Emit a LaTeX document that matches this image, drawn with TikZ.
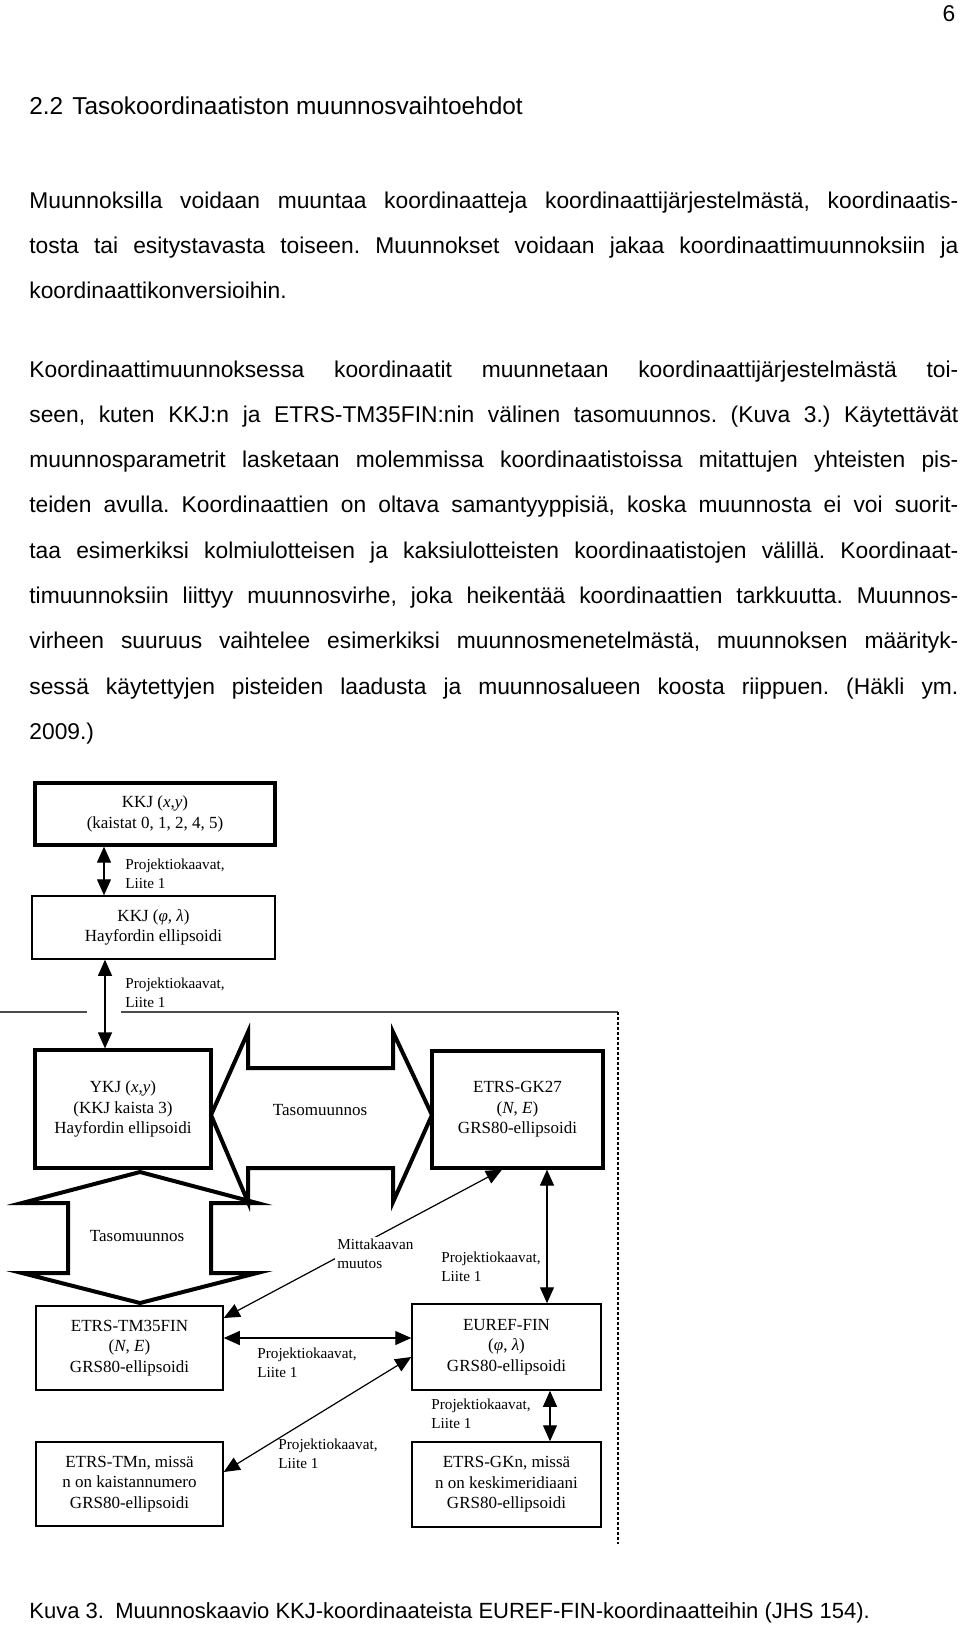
\documentclass[tikz,border=0pt]{standalone}
\usepackage{fontspec}
\setmainfont{Liberation Sans}
\newfontfamily\diagfont{Liberation Serif}
\usetikzlibrary{arrows.meta}
\begin{document}
\frenchspacing
\begin{tikzpicture}[x=0.5pt,y=-0.5pt,
  body/.style={anchor=base west, inner sep=0pt, font=\fontsize{11.4}{14}\selectfont},
  head/.style={anchor=base west, inner sep=0pt, font=\fontsize{12.2}{14}\selectfont},
  capt/.style={anchor=base west, inner sep=0pt, font=\fontsize{11}{14}\selectfont},
  box/.style={draw, line width=0.75pt, inner sep=0pt, align=center, font=\diagfont\fontsize{8.5}{10.2}\selectfont},
  thickbox/.style={box, line width=1.6pt},
  lbl/.style={inner sep=0pt, anchor=west, align=left, font=\diagfont\fontsize{7.6}{9.5}\selectfont},
  dbl/.style={line width=0.6pt, {Triangle[length=8pt,width=7pt]}-{Triangle[length=8pt,width=7pt]}},
  bigarrow/.style={line width=2pt, line join=miter},
  sep/.style={line width=0.7pt, black!70}
]
\fill[white] (0,0) rectangle (960,1630);
\useasboundingbox (0,0) rectangle (960,1630);

% page number and heading
\node[body, anchor=base] (pg) at (949,21) {6};
\node[head] (h1) at (29,114) {2.2};
\node[head] (h2) at (72,114) {Tasokoordinaatiston muunnosvaihtoehdot};

% body text
\def\lw{464.5pt}
\node[body] (t1) at (29,208) {\makebox[\lw][s]{Muunnoksilla voidaan muuntaa koordinaatteja koordinaattijärjestelmästä, koordinaatis-}};
\node[body] (t2) at (29,253.3) {\makebox[\lw][s]{tosta tai esitystavasta toiseen. Muunnokset voidaan jakaa koordinaattimuunnoksiin ja}};
\node[body] (t3) at (29,298.6) {koordinaattikonversioihin.};
\node[body] (t4) at (29,377) {\makebox[\lw][s]{Koordinaattimuunnoksessa koordinaatit muunnetaan koordinaattijärjestelmästä toi-}};
\node[body] (t5) at (29,422.3) {\makebox[\lw][s]{seen, kuten KKJ:n ja ETRS-TM35FIN:nin välinen tasomuunnos. (Kuva 3.) Käytettävät}};
\node[body] (t6) at (29,467.6) {\makebox[\lw][s]{muunnosparametrit lasketaan molemmissa koordinaatistoissa mitattujen yhteisten pis-}};
\node[body] (t7) at (29,512.9) {\makebox[\lw][s]{teiden avulla. Koordinaattien on oltava samantyyppisiä, koska muunnosta ei voi suorit-}};
\node[body] (t8) at (29,558.2) {\makebox[\lw][s]{taa esimerkiksi kolmiulotteisen ja kaksiulotteisten koordinaatistojen välillä. Koordinaat-}};
\node[body] (t9) at (29,603.5) {\makebox[\lw][s]{timuunnoksiin liittyy muunnosvirhe, joka heikentää koordinaattien tarkkuutta. Muunnos-}};
\node[body] (t10) at (29,648.8) {\makebox[\lw][s]{virheen suuruus vaihtelee esimerkiksi muunnosmenetelmästä, muunnoksen määrityk-}};
\node[body] (t11) at (29,694.1) {\makebox[\lw][s]{sessä käytettyjen pisteiden laadusta ja muunnosalueen koosta riippuen. (Häkli ym.}};
\node[body] (t12) at (29,739.4) {2009.)};

% boxes
\node[thickbox, minimum width=120pt, minimum height=31pt] (kkj) at (155,814) {KKJ (\textit{x},\textit{y})\\(kaistat 0, 1, 2, 4, 5)};
\node[box, minimum width=121.5pt, minimum height=31.5pt] (kkjp) at (153.5,927.5) {KKJ (\textit{φ}, \textit{λ})\\Hayfordin ellipsoidi};
\node[thickbox, minimum width=88pt, minimum height=59pt] (ykj) at (123,1109) {YKJ (\textit{x},\textit{y})\\(KKJ kaista 3)\\Hayfordin ellipsoidi};
\node[thickbox, minimum width=85.5pt, minimum height=58.5pt] (gk) at (517.5,1109.5) {ETRS-GK27\\(\textit{N}, \textit{E})\\GRS80-ellipsoidi};
\node[box, minimum width=93.5pt, minimum height=42pt] (tm) at (129.5,1348) {ETRS-TM35FIN\\(\textit{N}, \textit{E})\\GRS80-ellipsoidi};
\node[box, minimum width=94.5pt, minimum height=43pt] (euref) at (506.5,1347) {EUREF-FIN\\(\textit{φ}, \textit{λ})\\GRS80-ellipsoidi};
\node[box, minimum width=93.5pt, minimum height=42pt] (tmn) at (129.5,1484) {ETRS-TMn, missä\\n on kaistannumero\\GRS80-ellipsoidi};
\node[box, minimum width=94.5pt, minimum height=42.5pt] (gkn) at (506.5,1484.5) {ETRS-GKn, missä\\n on keskimeridiaani\\GRS80-ellipsoidi};

% helper coordinates
\coordinate (x104) at (104,0);
\coordinate (x105) at (105,0);
\coordinate (x547) at (547,0);
\coordinate (x550) at (550,0);
\coordinate (x502) at (502,0);
\coordinate (y1338) at (0,1338);
\coordinate (y1318) at (0,1318);
\coordinate (y1472) at (0,1472);
\coordinate (y1357) at (0,1357);

% separator lines
\coordinate (sl1) at (0,1012);
\coordinate (sl2) at (87,1012);
\coordinate (sr1) at (121,1012);
\coordinate (sr2) at (618,1012);
\coordinate (sd) at (618,1544);
\draw[sep] (sl1) -- (sl2);
\draw[sep] (sr1) -- (sr2);
\draw[line width=1pt, dash pattern=on 1.3pt off 1.2pt] (sr2) -- (sd);

% big arrows
\draw[bigarrow] (211,1115) -- (248,1032) -- (248,1068) -- (393,1068) -- (393,1032) -- (432,1115)
  -- (393,1202) -- (393,1168) -- (248,1168) -- (248,1202) -- cycle;
\node[font=\diagfont\fontsize{8.5}{10}\selectfont] (tasoh) at (320,1110) {Tasomuunnos};
\draw[bigarrow] (140,1172) -- (257,1203) -- (211,1203) -- (211,1273) -- (257,1273) -- (140,1303)
  -- (22,1273) -- (68,1273) -- (68,1203) -- (22,1203) -- cycle;
\node[font=\diagfont\fontsize{8.5}{10}\selectfont] (tasov) at (137,1236) {Tasomuunnos};

% thin connectors
\draw[dbl] (kkj.south -| x104) -- (kkjp.north -| x104);
\node[lbl] (l1) at (125,873.5) {Projektiokaavat,\\Liite 1};
\draw[dbl] (kkjp.south -| x105) -- (ykj.north -| x105);
\node[lbl] (l2) at (125,992.5) {Projektiokaavat,\\Liite 1};
\draw[dbl] (gk.south -| x547) -- (euref.north -| x547);
\node[lbl] (l3) at (441,1266.5) {Projektiokaavat,\\Liite 1};
\draw[dbl] (euref.south -| x550) -- (gkn.north -| x550);
\node[lbl] (l4) at (431,1414) {Projektiokaavat,\\Liite 1};
\draw[dbl] (tm.east |- y1338) -- (euref.west |- y1338);
\node[lbl] (l5) at (257,1362.5) {Projektiokaavat,\\Liite 1};
\draw[dbl] (gk.south -| x502) -- (tm.east |- y1318);
\node[lbl, fill=white, inner sep=1pt] (l6) at (335,1253.5) {Mittakaavan\\muutos};
\draw[dbl] (tmn.east |- y1472) -- (euref.west |- y1357);
\node[lbl] (l7) at (278,1454) {Projektiokaavat,\\Liite 1};

% caption
\node[capt] (c1) at (29,1618) {Kuva 3.};
\node[capt] (c2) at (115,1618) {Muunnoskaavio KKJ-koordinaateista EUREF-FIN-koordinaatteihin (JHS 154).};
\end{tikzpicture}
\end{document}
